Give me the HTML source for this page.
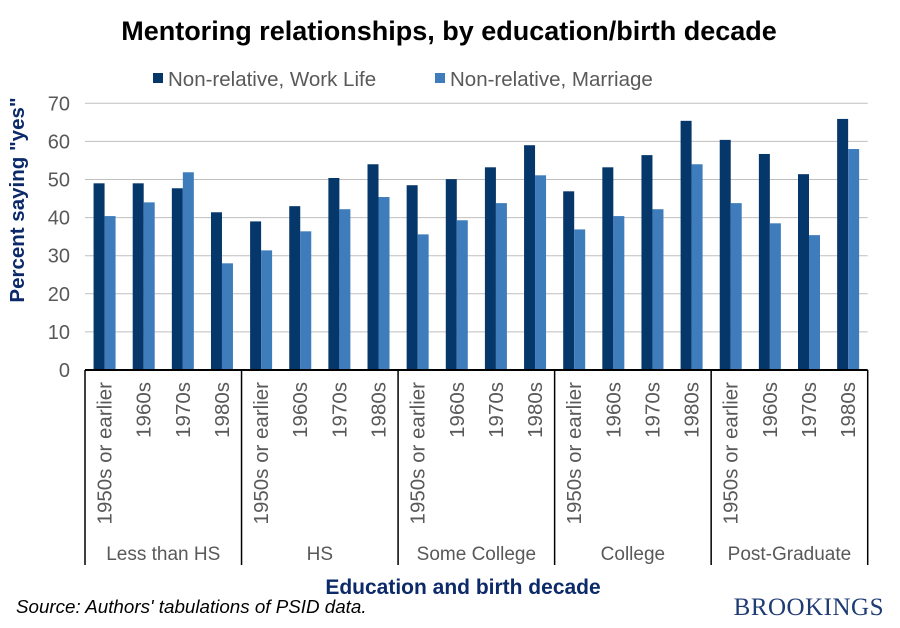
<!DOCTYPE html>
<html><head><meta charset="utf-8"><style>
body{margin:0;background:#fff;}
svg{display:block;font-family:"Liberation Sans",Arial,sans-serif;}
</style></head><body>
<svg id="chart" width="900" height="628">
<text x="449" y="40" text-anchor="middle" font-size="27" font-weight="bold" fill="#000">Mentoring relationships, by education/birth decade</text>
<g>
<rect x="153" y="73" width="10" height="10" fill="#06376A"/>
<text x="168" y="86" font-size="20.5" fill="#595959">Non-relative, Work Life</text>
<rect x="435" y="73" width="10" height="10" fill="#3F7CBC"/>
<text x="450" y="86" font-size="20.5" fill="#595959">Non-relative, Marriage</text>
</g>
<text transform="translate(24,200) rotate(-90)" text-anchor="middle" font-size="20.5" font-weight="bold" fill="#0C2A6A">Percent saying "yes"</text>
<text x="463" y="594" text-anchor="middle" font-size="21" font-weight="bold" fill="#0C2A6A">Education and birth decade</text>
<text x="16" y="613" font-size="18.8" font-style="italic" fill="#000">Source: Authors' tabulations of PSID data.</text>
<text x="884" y="615" text-anchor="end" font-size="25" font-family="Liberation Serif,serif" fill="#1F3B73" letter-spacing="0.5">BROOKINGS</text>
<g id="plot"></g>
</svg>
<script>
const groups=["Less than HS","HS","Some College","College","Post-Graduate"];
const decades=["1950s or earlier","1960s","1970s","1980s"];
const workLife=[49.0,49.0,47.7,41.4, 39.0,43.0,50.4,54.0, 48.5,50.1,53.2,59.0, 46.9,53.2,56.4,65.4, 60.4,56.7,51.4,65.9];
const marriage=[40.4,44.0,51.9,28.0, 31.4,36.4,42.2,45.4, 35.6,39.3,43.8,51.1, 36.9,40.4,42.2,54.0, 43.8,38.5,35.4,58.0];
const yTicks=[0,10,20,30,40,50,60,70];
const NS="http://www.w3.org/2000/svg";
const g=document.getElementById('plot');
const x0=85,x1=867.7,y0=370,yTop=103.3,yMax=70;
const n=workLife.length, cw=(x1-x0)/n;
const y=v=>y0-(v/yMax)*(y0-yTop);
const xc=i=>x0+cw*(i+0.5);
function el(t,a){const e=document.createElementNS(NS,t);for(const k in a)e.setAttribute(k,a[k]);g.appendChild(e);return e;}
yTicks.forEach(t=>{
  if(t>0){const l=el('line',{x1:x0,x2:x1,y1:y(t),y2:y(t),stroke:'#BFBFBF','stroke-width':1});
  
  }
  const tx=el('text',{x:70,y:y(t)+7,'text-anchor':'end','font-size':20,fill:'#595959'});
  tx.textContent=t;
  
  
});
for(let i=0;i<n;i++){
  const b1=el('rect',{x:xc(i)-11,y:y(workLife[i]),width:11,height:y0-y(workLife[i]),fill:'#06376A'});
  
  
  const b2=el('rect',{x:xc(i),y:y(marriage[i]),width:11,height:y0-y(marriage[i]),fill:'#3F7CBC'});
  
  
  const t=el('text',{transform:`translate(${xc(i)+7},382) rotate(-90)`,'text-anchor':'end','font-size':20.5,fill:'#595959'});
  t.textContent=decades[i%4];
  
  
}
const ax=el('line',{x1:x0,x2:x1,y1:y0,y2:y0,stroke:'#000','stroke-width':2});


for(let k=0;k<=groups.length;k++){
  const xx=x0+k*4*cw;
  const d=el('line',{x1:xx,x2:xx,y1:y0,y2:565,stroke:'#000','stroke-width':1.5});
  
  
  if(k<groups.length){
    const t=el('text',{x:xx+2*cw,y:560,'text-anchor':'middle','font-size':19,fill:'#595959'});
    t.textContent=groups[k];
    
    
  }
}
</script>
</body></html>
